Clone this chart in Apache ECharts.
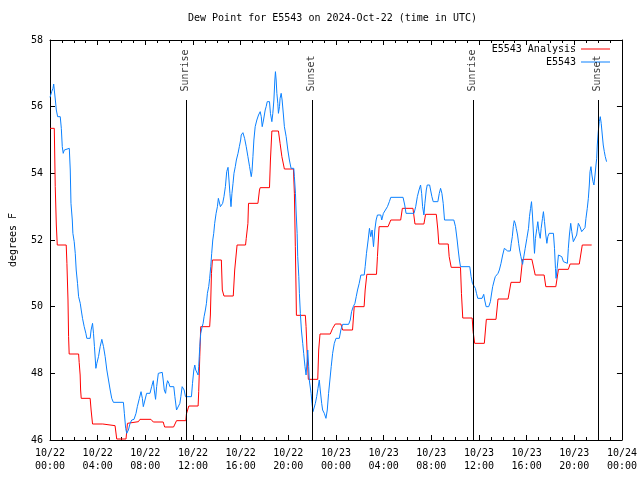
<!DOCTYPE html>
<html><head><meta charset="utf-8">
<script src="https://cdn.jsdelivr.net/npm/echarts@6/dist/echarts.min.js"></script>
<style>html,body{margin:0;padding:0;background:#fff}#c{width:640px;height:480px}</style>
</head><body><div id="c"></div>
<script>
// hours since 2024-10-22 00:00 UTC
const anaTime=[0,0.36,0.44,0.53,0.61,1.36,1.42,1.51,1.56,1.61,2.40,2.45,2.53,2.57,2.62,3.37,3.45,3.57,4.43,4.49,5.46,5.6,6.38,6.5,6.63,7.42,7.55,8.47,8.67,9.5,9.62,10.37,10.62,11.4,11.45,11.65,12.43,12.48,12.57,12.65,13.4,13.46,13.55,13.63,14.38,14.46,14.6,15.38,15.5,15.7,16.41,16.47,16.61,16.66,17.45,17.58,17.64,18.42,18.5,18.62,19.17,19.31,19.46,19.67,20.43,20.51,20.59,20.65,20.68,21.43,21.49,21.57,21.68,22.47,22.55,22.66,23.52,23.72,23.94,24.41,24.56,25.39,25.53,26.36,26.45,26.59,27.4,27.48,27.62,28.37,28.6,29.43,29.57,30.46,30.63,31.38,31.52,32.42,32.55,32.63,33.42,33.5,33.67,34.45,34.53,34.64,35.43,35.51,35.64,36.45,36.62,37.43,37.6,38.44,38.69,39.46,39.66,40.44,40.72,41.47,41.61,42.45,42.67,43.5,43.65,44.42,44.67,45.46];
const anaDew=[55.35,55.35,53.6,52.45,51.85,51.85,51.3,50.2,49.1,48.58,48.58,48.32,47.95,47.5,47.25,47.25,46.9,46.48,46.48,46.43,46.43,46.03,46.03,46.5,46.55,46.55,46.62,46.62,46.54,46.54,46.39,46.39,46.58,46.58,46.78,47.02,47.02,47.45,48.5,49.4,49.4,49.75,51.0,51.4,51.4,50.5,50.32,50.32,51.1,51.85,51.85,52.05,52.5,53.1,53.1,53.5,53.57,53.57,54.4,55.27,55.27,54.9,54.5,54.13,54.13,53.4,51.8,50.5,49.74,49.74,49.4,48.7,47.82,47.82,48.7,49.18,49.18,49.35,49.48,49.48,49.3,49.3,50.0,50.0,50.5,50.97,50.97,51.5,52.4,52.4,52.6,52.6,52.95,52.95,52.48,52.48,52.77,52.77,52.3,51.88,51.88,51.5,51.18,51.18,50.4,49.66,49.66,49.25,48.9,48.9,49.62,49.62,50.23,50.23,50.73,50.73,51.42,51.42,50.95,50.95,50.6,50.6,51.12,51.12,51.28,51.28,51.85,51.85];

const obsTime=[0,0.08,0.14,0.25,0.31,0.36,0.45,0.53,0.64,0.86,0.95,1.03,1.11,1.2,1.31,1.62,1.7,1.76,1.87,1.92,2.03,2.12,2.2,2.31,2.4,2.54,2.62,2.73,2.87,3.01,3.09,3.37,3.45,3.57,3.65,3.73,3.85,3.93,4.07,4.21,4.35,4.49,4.63,4.77,4.91,5.05,5.18,5.32,6.16,6.24,6.35,6.44,6.58,6.72,6.86,7.05,7.22,7.33,7.5,7.64,7.75,7.83,7.97,8.11,8.39,8.53,8.67,8.75,8.86,8.95,9.09,9.23,9.42,9.5,9.59,9.7,9.78,9.87,9.98,10.06,10.39,10.48,10.62,10.76,10.9,10.98,11.09,11.18,11.26,11.37,11.87,11.96,12.07,12.15,12.23,12.35,12.43,12.48,12.57,12.65,12.77,12.85,12.93,13.04,13.13,13.21,13.32,13.4,13.49,13.57,13.66,13.74,13.82,13.94,14.05,14.13,14.21,14.3,14.38,14.49,14.6,14.72,14.83,14.94,15.02,15.1,15.19,15.27,15.36,15.44,15.55,15.64,15.78,15.89,16.0,16.05,16.19,16.33,16.47,16.61,16.75,16.89,16.95,17.03,17.11,17.22,17.36,17.5,17.64,17.73,17.81,17.92,18.06,18.14,18.23,18.42,18.5,18.62,18.7,18.79,18.87,18.92,18.98,19.04,19.12,19.17,19.26,19.31,19.4,19.48,19.59,19.67,19.82,19.96,20.09,20.23,20.46,20.51,20.6,20.65,20.74,20.79,20.88,20.93,21.01,21.1,21.21,21.29,21.4,21.49,21.57,21.63,21.71,21.76,21.91,21.99,22.07,22.18,22.27,22.38,22.49,22.6,22.68,22.8,22.88,23.02,23.16,23.27,23.38,23.49,23.6,23.72,23.86,24.0,24.28,24.41,24.56,25.06,25.2,25.31,25.45,25.59,25.7,25.81,25.95,26.09,26.37,26.45,26.56,26.7,26.81,26.92,27.03,27.15,27.26,27.37,27.48,27.62,27.76,27.84,27.98,28.12,28.32,28.48,28.6,29.63,29.77,29.88,30.55,30.69,30.83,30.97,31.1,31.19,31.27,31.38,31.46,31.58,31.66,31.86,31.94,32.05,32.16,32.55,32.67,32.78,32.89,33.0,33.11,33.89,34.03,34.17,34.26,34.36,34.45,35.23,35.34,35.45,35.56,35.7,35.79,35.9,36.26,36.4,36.48,36.6,36.71,36.82,36.96,37.04,37.15,37.29,37.37,37.6,37.71,37.85,37.99,38.13,38.41,38.63,38.71,38.8,38.88,38.96,39.05,39.13,39.24,39.33,39.41,39.52,39.66,39.74,39.88,40.02,40.16,40.24,40.33,40.41,40.49,40.58,40.66,40.74,40.86,40.94,41.03,41.14,41.22,41.33,41.41,41.5,41.61,41.7,41.78,41.89,42.25,42.34,42.42,42.47,42.56,42.67,42.95,43.09,43.23,43.42,43.5,43.59,43.7,43.79,43.92,44.06,44.2,44.34,44.48,44.62,44.76,44.9,44.98,45.09,45.18,45.26,45.32,45.4,45.48,45.57,45.65,45.74,45.82,45.88,45.93,46.01,46.1,46.18,46.26,46.35,46.43,46.52,46.6,46.71];
const obsDew=[56.28,56.28,56.45,56.55,56.68,56.5,56.2,55.9,55.7,55.7,55.35,54.8,54.6,54.7,54.75,54.75,54.1,53.1,52.6,52.2,51.95,51.6,51.1,50.7,50.3,50.1,49.9,49.65,49.4,49.2,49.05,49.05,49.3,49.5,49.2,48.8,48.15,48.3,48.5,48.8,49.02,48.8,48.5,48.1,47.8,47.5,47.25,47.13,47.13,46.8,46.35,46.2,46.3,46.5,46.6,46.62,46.8,47.0,47.25,47.45,47.25,47.0,47.2,47.4,47.4,47.6,47.78,47.5,47.22,47.6,48.0,48.03,48.03,47.8,47.5,47.4,47.65,47.78,47.7,47.6,47.6,47.3,46.9,46.95,47.1,47.3,47.6,47.65,47.5,47.3,47.3,47.7,48.1,48.25,48.1,48.15,47.95,48.2,48.8,49.2,49.4,49.5,49.7,49.9,50.1,50.4,50.6,50.85,51.2,51.6,52.0,52.2,52.5,52.8,53.0,53.25,53.2,53.0,52.95,53.1,53.3,53.6,54.05,54.18,53.8,53.4,53.0,53.4,53.7,54.0,54.2,54.4,54.6,54.8,55.0,55.15,55.22,55.05,54.8,54.5,54.2,53.9,54.05,54.5,55.0,55.4,55.6,55.75,55.85,55.7,55.4,55.6,55.9,56.0,56.15,56.15,55.8,55.55,55.8,56.2,56.8,57.05,56.8,56.4,56.1,55.8,56.0,56.25,56.4,56.2,55.75,55.4,55.1,54.7,54.4,54.15,54.15,53.9,53.4,52.9,52.2,51.5,50.9,50.4,49.8,49.3,48.9,48.6,48.2,47.95,48.35,48.7,48.2,47.8,47.4,47.1,46.85,46.85,47.1,47.3,47.55,47.8,47.5,47.1,46.9,46.8,46.65,46.9,47.4,47.8,48.2,48.6,48.9,49.05,49.05,49.3,49.47,49.47,49.6,49.85,50.0,50.1,50.3,50.5,50.7,50.95,50.95,51.2,51.6,52.0,52.35,52.1,52.3,51.8,52.3,52.6,52.75,52.8,52.75,52.6,52.8,52.85,53.0,53.15,53.28,53.28,53.05,52.8,52.8,53.0,53.3,53.5,53.65,53.4,53.0,52.75,53.1,53.5,53.65,53.65,53.5,53.3,53.15,53.15,53.4,53.55,53.4,53.1,52.6,52.6,52.4,52.0,51.7,51.4,51.2,51.2,50.9,50.7,50.65,50.55,50.4,50.25,50.25,50.37,50.2,50.0,49.95,50.0,50.15,50.35,50.6,50.8,50.9,51.0,51.1,51.3,51.55,51.75,51.67,51.67,51.9,52.1,52.4,52.58,52.5,52.35,52.15,51.9,51.7,51.5,51.27,51.45,51.75,52.05,52.35,52.7,52.95,53.15,52.75,52.15,51.6,52.05,52.35,52.55,52.25,52.05,52.35,52.65,52.85,52.55,52.15,51.9,52.1,52.2,52.2,51.75,51.15,50.85,51.15,51.55,51.5,51.35,51.3,51.3,51.75,52.15,52.5,52.25,51.95,51.9,52.15,52.5,52.4,52.25,52.25,52.37,52.65,52.95,53.25,53.65,54.05,54.2,53.95,53.75,53.65,53.95,54.25,54.45,54.85,55.25,55.55,55.7,55.5,55.15,54.85,54.65,54.5,54.35];

const sunTimes=[11.4,22.02,35.48,46.01];
const sunLabels=['Sunrise','Sunset','Sunrise','Sunset'];
const yTicks=[46,48,50,52,54,56,58];

const FONT='DejaVu Sans Mono';
const BLACK='#000';
function fmtX(h){const d=22+Math.floor(h/24);const hh=h%24;return '10/'+d+'\n'+String(hh).padStart(2,'0')+':00';}
function xAxisDef(pos,labels){
  return {type:'value',min:0,max:48,interval:4,position:pos,
    axisLine:{show:true,onZero:false,lineStyle:{color:BLACK,width:1}},
    axisTick:{show:true,inside:true,length:5,lineStyle:{color:BLACK,width:1}},
    minorTick:{show:true,splitNumber:4,length:3,lineStyle:{color:BLACK,width:1}},
    splitLine:{show:false},minorSplitLine:{show:false},
    axisLabel:{show:labels,formatter:fmtX,margin:7,color:BLACK,fontFamily:FONT,fontSize:10,lineHeight:13}};
}
function yAxisDef(pos,labels){
  return {type:'value',min:yTicks[0],max:yTicks[yTicks.length-1],interval:2,position:pos,
    axisLine:{show:true,onZero:false,lineStyle:{color:BLACK,width:1}},
    axisTick:{show:true,inside:true,length:5,lineStyle:{color:BLACK,width:1}},
    splitLine:{show:false},
    axisLabel:{show:labels,margin:7,color:BLACK,fontFamily:FONT,fontSize:10}};
}
const yL=yAxisDef('left',true);
yL.name='degrees F';yL.nameLocation='middle';yL.nameGap=32;yL.nameRotate=90;
yL.nameTextStyle={color:BLACK,fontFamily:FONT,fontSize:10};

const legendText={color:BLACK,fontFamily:FONT,fontSize:10};
const option={
  animation:false,
  textStyle:{fontFamily:FONT,fontSize:10,color:BLACK},
  title:{text:'Dew Point for E5543 on 2024-Oct-22 (time in UTC)',left:188,top:13,padding:0,
    textStyle:{fontFamily:FONT,fontSize:10,fontWeight:'normal',color:BLACK}},
  grid:{left:48,right:18,top:40,bottom:40,show:false},
  legend:[
    {data:['E5543 Analysis'],right:30,top:44,orient:'vertical',align:'right',icon:'rect',itemWidth:29,itemHeight:1,padding:0,textStyle:legendText,selectedMode:false},
    {data:['E5543'],right:30,top:57,orient:'vertical',align:'right',icon:'rect',itemWidth:29,itemHeight:1,padding:0,textStyle:legendText,selectedMode:false}
  ],
  xAxis:[xAxisDef('bottom',true),xAxisDef('top',false)],
  yAxis:[yL,yAxisDef('right',false)],
  series:[
    {name:'E5543 Analysis',type:'line',data:anaTime.map((t,i)=>[t,anaDew[i]]),symbol:'none',showSymbol:false,
      itemStyle:{color:'#ff0000'},lineStyle:{color:'#ff0000',width:1},z:2},
    {name:'E5543',type:'line',data:obsTime.map((t,i)=>[t,obsDew[i]]),symbol:'none',showSymbol:false,
      itemStyle:{color:'#0a80ff'},lineStyle:{color:'#0a80ff',width:1},z:3},
    {name:'sun',type:'scatter',silent:true,symbolSize:1,itemStyle:{color:'rgba(0,0,0,0)'},
      data:sunTimes.map((t,i)=>({value:[t,56.2],name:sunLabels[i]})),
      label:{show:true,formatter:'{b}',rotate:90,position:[0,-8],align:'left',verticalAlign:'middle',
        color:BLACK,fontFamily:FONT,fontSize:10},
      markLine:{silent:true,symbol:['none','none'],label:{show:false},animation:false,
        lineStyle:{color:BLACK,width:1,type:'solid'},
        data:sunTimes.map(t=>[{coord:[t,yTicks[0]]},{coord:[t,56.2]}])},z:4}
  ]
};
const chart=echarts.init(document.getElementById('c'),null,{renderer:'canvas'});
chart.setOption(option);
</script>
</body></html>
